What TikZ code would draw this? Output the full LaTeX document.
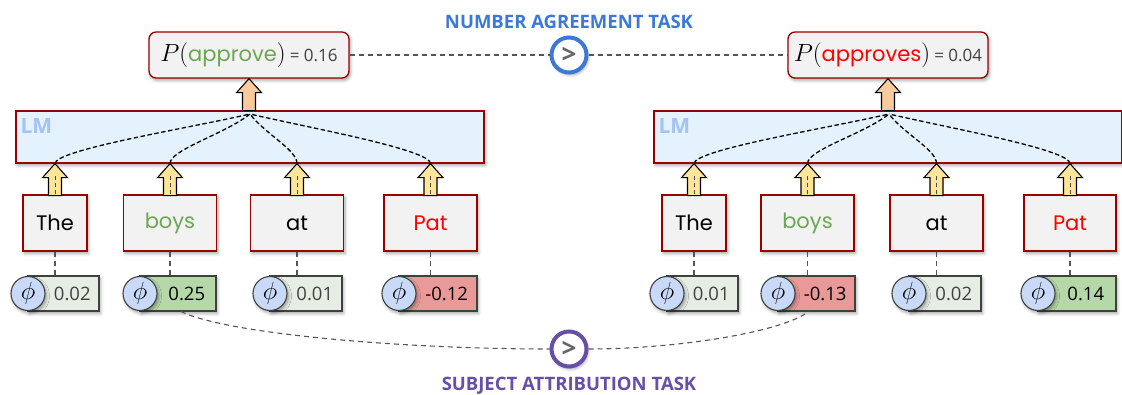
\documentclass[tikz,border=0pt]{standalone}
\usepackage{fontspec}
\usetikzlibrary{shadows.blur,calc}
\newfontfamily\numfont{Open Sans}
\newfontfamily\hand{Poppins}
\newfontfamily\titlefont{Open Sans}
\definecolor{boxred}{HTML}{990000}
\definecolor{boxgray}{HTML}{F2F2F2}
\definecolor{lmblue}{HTML}{E4F2FD}
\definecolor{lmtext}{HTML}{A4C2F4}
\definecolor{phiblue}{HTML}{C9DAF8}
\definecolor{phigray}{HTML}{E6EDE3}
\definecolor{phigreen}{HTML}{B6D7A8}
\definecolor{phired}{HTML}{EA9999}
\definecolor{wgreen}{HTML}{6AA84F}
\definecolor{wred}{HTML}{FF0000}
\definecolor{yarrow}{HTML}{FFE599}
\definecolor{oarrow}{HTML}{F9CB9C}
\definecolor{nablue}{HTML}{3C78D8}
\definecolor{sapurple}{HTML}{674EA7}
\definecolor{dashgray}{HTML}{555555}
\definecolor{valgray}{HTML}{404040}
\newcommand\phinode[6]{%
  \node[phirect, fill=#4, minimum width={(#3-#2)*1pt}] (#1) at ({(#2+#3)/2},293.5) {};
  \node[phicirc] (#1c) at (#2,293.5) {$\phi$};
  \node[phival, text=#6] (#1v) at ({(#2+17.5+#3)/2},293.5) {#5};
}
\begin{document}
\begin{tikzpicture}[x=1pt,y=-1pt,
  myshadow/.style={blur shadow={shadow xshift=1.5pt,shadow yshift=-2.5pt,shadow blur radius=3pt,shadow opacity=35}},
  wordbox/.style={draw=boxred, line width=1.3pt, fill=boxgray, minimum height=56pt, inner sep=0pt, myshadow, font=\hand\fontsize{21}{21}\selectfont},
  pbox/.style={draw=boxred, line width=1.3pt, fill=boxgray, rounded corners=7pt, minimum width=200pt, minimum height=46pt, inner sep=0pt, myshadow},
  lmbox/.style={draw=boxred, line width=1.3pt, fill=lmblue, minimum width=468pt, minimum height=52pt, inner sep=0pt, myshadow},
  phirect/.style={draw=black!75, line width=1.1pt, minimum height=35pt, inner sep=0pt, myshadow},
  phicirc/.style={circle, draw=black!75, line width=1.1pt, fill=phiblue, minimum size=34pt, inner sep=0pt, myshadow, font=\fontsize{27}{27}\selectfont},
  phival/.style={font=\numfont\fontsize{18.5}{18.5}\selectfont, inner sep=0pt},
  lmdash/.style={draw=black, dash pattern=on 4.5pt off 2.5pt, line width=1.3pt},
  indash/.style={draw=black!70, dash pattern=on 4pt off 3pt, line width=1pt},
  gdash/.style={draw=dashgray, dash pattern=on 5pt off 4pt, line width=1.1pt},
  cmp/.style={circle, line width=4pt, fill=white, minimum size=35pt, inner sep=0pt, myshadow, font=\titlefont\bfseries\fontsize{26}{26}\selectfont, text=black!60},
  title/.style={font=\titlefont\bfseries\fontsize{18.5}{18.5}\selectfont},
  blockarrow/.pic={\draw[pic actions, line width=1.1pt, line join=miter] (0,0) -- (12.5,14) -- (6.5,14) -- (6.5,32) -- (-6.5,32) -- (-6.5,14) -- (-12.5,14) -- cycle;}
]
\clip (0,0) rectangle (1122,395);

% ---------- titles
\node[title, text=nablue] (natitle) at (569,22) {NUMBER AGREEMENT TASK};
\node[title, text=sapurple] (satitle) at (569,386) {SUBJECT ATTRIBUTION TASK};

% ---------- probability boxes
\node[pbox] (pL) at (249,55) {\fontsize{25}{25}\selectfont$P($\hand\fontsize{21}{21}\selectfont\color{wgreen}approve\color{black}\fontsize{25}{25}\selectfont$)$\,{\numfont\fontsize{17}{17}\selectfont\color{valgray}= 0.16}};
\node[pbox] (pR) at (888,55) {\fontsize{25}{25}\selectfont$P($\hand\fontsize{21}{21}\selectfont\color{wred}approves\color{black}\fontsize{25}{25}\selectfont$)$\,{\numfont\fontsize{17}{17}\selectfont\color{valgray}= 0.04}};

\node[cmp, draw=nablue] (na) at (569,55) {>};
\draw[gdash] (pL.east) -- (na.west);
\draw[gdash] (na.east) -- (pR.west);

% ---------- LM boxes
\node[lmbox] (LML) at (250,137) {};
\node[lmbox] (LMR) at (888,137) {};
\node[font=\titlefont\bfseries\fontsize{21}{21}\selectfont, text=lmtext, anchor=west, inner sep=0pt] (lmlabL) at ($(LML.north west)+(5,16)$) {LM};
\node[font=\titlefont\bfseries\fontsize{21}{21}\selectfont, text=lmtext, anchor=west, inner sep=0pt] (lmlabR) at ($(LMR.north west)+(5,16)$) {LM};

% ---------- orange arrows
\pic[fill=oarrow, draw=black] at (pL.south) {blockarrow};
\pic[fill=oarrow, draw=black] at (pR.south) {blockarrow};

% ---------- word boxes
\node[wordbox, minimum width=64pt] (wL1) at (55,223) {The};
\node[wordbox, minimum width=93pt, text=wgreen] (wL2) at (170,223) {boys};
\node[wordbox, minimum width=93pt] (wL3) at (297,223) {at};
\node[wordbox, minimum width=93pt, text=wred] (wL4) at (430.5,223) {Pat};
\node[wordbox, minimum width=64pt] (wR1) at (694,223) {The};
\node[wordbox, minimum width=93pt, text=wgreen] (wR2) at (807.5,223) {boys};
\node[wordbox, minimum width=93pt] (wR3) at (936.5,223) {at};
\node[wordbox, minimum width=92pt, text=wred] (wR4) at (1070,223) {Pat};

% ---------- convergence points
\coordinate (cL) at (250,114);
\coordinate (cR) at (889,114);

% ---------- yellow arrows and inner dashes
\foreach \w in {wL1,wL2,wL3,wL4}{
  \coordinate (t\w) at (\w.north |- LML.south);
  \pic[fill=yarrow, draw=black] at (t\w) {blockarrow};
  \draw[indash] (\w.north) -- ($(t\w)+(0,12)$);
}
\foreach \w in {wR1,wR2,wR3,wR4}{
  \coordinate (t\w) at (\w.north |- LMR.south);
  \pic[fill=yarrow, draw=black] at (t\w) {blockarrow};
  \draw[indash] (\w.north) -- ($(t\w)+(0,12)$);
}

% ---------- LM internal dashed curves
\draw[lmdash] (twL1) .. controls +(0,-14) and +(-60,14) .. (cL);
\draw[lmdash] (twL2) .. controls +(0,-14) and +(-25,20) .. (cL);
\draw[lmdash] (twL3) .. controls +(0,-14) and +(15,20) .. (cL);
\draw[lmdash] (twL4) .. controls +(0,-14) and +(60,14) .. (cL);
\draw[lmdash] (twR1) .. controls +(0,-14) and +(-60,14) .. (cR);
\draw[lmdash] (twR2) .. controls +(0,-14) and +(-25,20) .. (cR);
\draw[lmdash] (twR3) .. controls +(0,-14) and +(15,20) .. (cR);
\draw[lmdash] (twR4) .. controls +(0,-14) and +(60,14) .. (cR);

% ---------- phi attribution boxes
\phinode{phiL1}{28}{99}{phigray}{0.02}{valgray}
\phinode{phiL2}{140}{216}{phigreen}{0.25}{black}
\phinode{phiL3}{270}{342}{phigray}{0.01}{valgray}
\phinode{phiL4}{399}{477}{phired}{-0.12}{black}
\phinode{phiR1}{667}{738}{phigray}{0.01}{valgray}
\phinode{phiR2}{778}{855}{phired}{-0.13}{black}
\phinode{phiR3}{909}{981}{phigray}{0.02}{valgray}
\phinode{phiR4}{1038}{1116}{phigreen}{0.14}{black}

\foreach \i in {1,2,3,4}{
  \draw[gdash] (wL\i.south) -- (wL\i.south |- phiL\i.north);
  \draw[gdash] (wR\i.south) -- (wR\i.south |- phiR\i.north);
}

% ---------- subject attribution comparison
\node[cmp, draw=sapurple] (sa) at (569,349) {>};
\coordinate (sL) at ($(phiL2.south)+(3,0)$);
\coordinate (sR) at ($(phiR2.south)+(-8,0)$);
\draw[gdash] (sL) .. controls +(45,22) and +(-150,0) .. (sa.west);
\draw[gdash] (sa.east) .. controls +(90,0) and +(-25,20) .. (sR);
\end{tikzpicture}
\end{document}
